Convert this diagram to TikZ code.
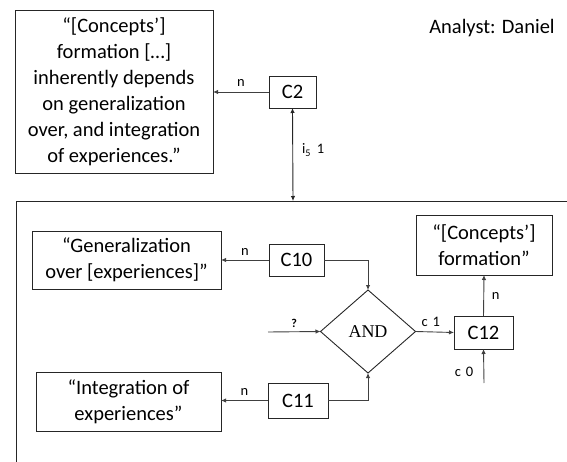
\documentclass[tikz,border=0pt]{standalone}
\usepackage{fontspec}
\setmainfont{Carlito}
\newfontfamily\andfont{Liberation Serif}
\usetikzlibrary{arrows.meta,shapes.geometric}
\begin{document}
\begin{tikzpicture}[x=1pt,y=-1pt,
  every node/.style={inner sep=0pt, outer sep=0pt},
  quotebox/.style={draw=black!85, line width=0.9pt, align=center,
    font=\fontsize{20.5}{26}\selectfont},
  cbox/.style={draw=black!85, line width=0.9pt,
    font=\fontsize{20.5}{24}\selectfont},
  lab/.style={font=\fontsize{14.5}{17}\selectfont},
  conn/.style={draw=black!75, line width=0.9pt,
    -{Latex[length=5pt,width=4.5pt]}},
]
\useasboundingbox (0,0) rectangle (567,462);

% top part: quotation and its concept
\node[quotebox, minimum width=198pt, minimum height=163pt] (q1) at (114,91.5)
  {“[Concepts’]\\formation […]\\inherently depends\\on generalization\\over, and integration\\of experiences.”};
\node[cbox, minimum width=47pt, minimum height=32pt] (c2) at (292.5,92) {C2};
\node[font=\fontsize{20.5}{24}\selectfont] (an) at (492,28) {Analyst: Daniel};

\draw[conn] (c2.west) -- node[lab, above=5pt] (n1) {n} (c2.west -| q1.east);

% frame of the decomposition
\coordinate (ftop) at (293,201);
\draw[black!85, line width=0.9pt] (567,201) -- (16,201) -- (16,462);
\draw[draw=black!85, line width=0.9pt, {Latex[length=5pt,width=4.5pt]}-{Latex[length=5pt,width=4.5pt]}]
  (c2.south) -- (ftop);
\node[lab, anchor=west] (il) at (302,150) {i\textsubscript{5}\hspace{6pt}1};

% decomposition
\node[quotebox, minimum width=189pt, minimum height=58pt] (gen) at (126.5,260)
  {“Generalization\\over [experiences]”};
\node[quotebox, minimum width=185pt, minimum height=59pt] (int) at (128.5,401.5)
  {“Integration of\\experiences”};
\node[quotebox, minimum width=136pt, minimum height=60pt] (form) at (484,245)
  {“[Concepts’]\\formation”};
\node[cbox, minimum width=55pt, minimum height=32pt] (c10) at (296.5,260) {C10};
\node[cbox, minimum width=60pt, minimum height=35pt] (c11) at (298,400.5) {C11};
\node[cbox, minimum width=59pt, minimum height=33pt] (c12) at (483.5,332.5) {C12};
\node[draw=black!85, line width=0.9pt, diamond, aspect=1.15,
  minimum width=95pt, minimum height=83pt,
  font=\andfont\fontsize{18}{20}\selectfont] (and) at (368,331.5) {AND};

\coordinate (qin) at (268,332);
\coordinate (c0in) at (484,383);

\draw[conn] (c10.west) -- node[lab, above=5pt] (n2) {n} (c10.west -| gen.east);
\draw[conn] (c11.west) -- node[lab, above=5pt] (n3) {n} (c11.west -| int.east);
\draw[conn] (c10.east) -| (and.north);
\draw[conn] (c11.east) -| (and.south);
\draw[conn] (qin) -- node[lab, above=4pt, font=\bfseries\fontsize{12}{14}\selectfont] (qm) {?} (and.west);
\draw[conn] (and.east) -- node[lab, above=5pt, xshift=-4pt] (c1l) {c\hspace{5pt}1} (c12.west);
\draw[conn] (c12.north) -- node[lab, right=8pt] (n4) {n} (form.south);
\draw[conn] (c0in) -- (c12.south);
\node[lab] (c0l) at (464,372) {c\hspace{5pt}0};
\end{tikzpicture}
\end{document}
